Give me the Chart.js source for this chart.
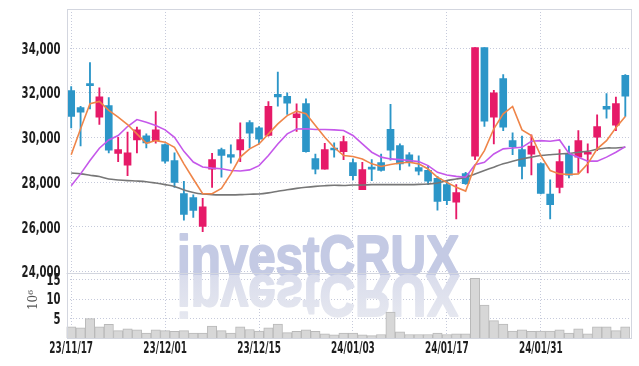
<!DOCTYPE html>
<html>
<head>
<meta charset="utf-8">
<script src="https://cdn.jsdelivr.net/npm/chart.js@4.4.0/dist/chart.umd.min.js"></script>
<style>
  html, body { margin: 0; padding: 0; background: #fff; }
  #wrap { width: 639px; height: 366px; }
</style>
</head>
<body>
<div id="wrap"><canvas id="chart"></canvas></div>
<script>
// data
const dates = ['23/11/17','23/11/20','23/11/21','23/11/22','23/11/23','23/11/24','23/11/27','23/11/28','23/11/29','23/11/30',
  '23/12/01','23/12/04','23/12/05','23/12/06','23/12/07','23/12/08','23/12/11','23/12/12','23/12/13','23/12/14',
  '23/12/15','23/12/18','23/12/19','23/12/20','23/12/21','23/12/22','23/12/26','23/12/27','23/12/28','24/01/02',
  '24/01/03','24/01/04','24/01/05','24/01/08','24/01/09','24/01/10','24/01/11','24/01/12','24/01/15','24/01/16',
  '24/01/17','24/01/18','24/01/19','24/01/22','24/01/23','24/01/24','24/01/25','24/01/26','24/01/29','24/01/30',
  '24/01/31','24/02/01','24/02/02','24/02/05','24/02/06','24/02/07','24/02/08','24/02/13','24/02/14','24/02/15']

const open = [32100,31340,32340,30910,31430,29290,28760,29890,30070,29860,
  29680,28970,27490,27310,26020,28580,29460,29230,29440,30670,
  30430,30090,31930,31840,30890,31520,29060,28580,29470,29370,
  28880,27660,28610,28880,30360,29640,29220,28650,28530,28170,
  27890,27100,28380,29160,34020,30910,32640,29860,29460,29250,
  28830,27470,27770,29250,29120,29250,30010,31390,30550,32780]
const close = [30940,31130,32320,31820,29430,29460,29310,30340,29760,30340,
  28940,27990,26560,26740,26900,29010,29200,29120,29910,30190,
  29920,31390,31810,31540,31060,29370,28580,29460,29440,29820,
  28290,28560,28580,28520,29430,28820,28890,28490,28040,27140,
  27170,27530,27930,34020,30730,32000,30460,29590,28700,29620,
  27500,26990,28920,28310,29860,29340,30490,31270,31520,31850]
const high = [32280,31390,33350,32220,31780,30010,30240,30460,30160,31160,
  29710,29310,28040,27430,27280,29290,29520,29670,30650,30760,
  30490,31610,32930,32000,31510,31730,29260,29740,29760,30060,
  29040,28890,29010,29260,31480,29710,29320,29180,28740,28260,
  28070,27890,28440,34020,34020,32110,32820,30210,30060,30120,
  28860,28100,29460,29620,30310,29710,31010,31960,31810,32820]
const low = [30430,29620,31280,30580,29310,28920,28290,29310,29530,29740,
  28850,27770,26300,26420,25780,27770,28220,28850,28920,29530,
  29710,30060,31400,31030,30270,29340,28370,28580,29120,29010,
  28100,27660,28070,28490,28980,28550,28710,28320,27890,26750,
  26990,26350,27900,29010,30490,29710,30310,29230,28140,28320,
  27470,26350,27520,28190,28400,28410,29410,30860,30310,30940]

const ma5 = [29230,30390,31510,31610,31210,30910,30580,30160,29740,29860,
  29790,29560,28820,28140,27480,27480,27720,28370,29120,29490,
  29710,30160,30610,30980,31180,31060,30540,30010,29550,29190,
  29150,29040,28820,28700,28790,28860,28890,28820,28590,28220,
  27990,27770,27600,28750,29410,30390,31060,31390,30340,30090,
  29190,28520,28370,28340,28370,28820,29490,29860,30430,30940]
const ma20 = [27840,28370,28970,29520,29890,30090,30490,30800,30680,30540,
  30340,30010,29380,28900,28680,28630,28600,28520,28500,28550,
  28740,29190,29710,30160,30380,30390,30360,30360,30340,30310,
  30090,29710,29340,29120,29040,29010,28970,28920,28740,28440,
  28320,28260,28220,28780,28890,29260,29490,29530,29560,29830,
  29860,29830,29890,29290,29120,28940,28940,29120,29340,29590]
const ma60 = [28410,28370,28310,28250,28140,28100,28070,28050,28020,27960,
  27890,27810,27650,27540,27470,27440,27430,27430,27440,27460,
  27470,27520,27590,27660,27720,27770,27810,27840,27860,27850,
  27870,27870,27890,27890,27890,27890,27890,27900,27920,27960,
  28070,28140,28220,28370,28520,28670,28820,28940,29040,29120,
  29190,29230,29260,29290,29340,29380,29470,29530,29530,29560]

// volume in millions
const volume = [2.9,2.6,5.0,2.9,3.5,1.9,2.4,2.1,1.3,2.1,
  1.9,1.7,1.9,1.3,1.3,3.1,1.9,1.3,2.9,2.2,
  1.8,2.6,3.6,1.4,1.7,2.1,1.7,1.1,0.8,1.3,
  1.3,0.8,0.6,0.9,6.7,1.6,0.9,0.9,0.9,1.3,
  0.9,1.1,1.1,15.4,8.5,4.5,3.6,1.8,2.1,1.7,
  1.8,1.8,2.1,1.3,2.4,1.1,2.9,2.9,1.9,2.9]

const priceTicks = [24000,26000,28000,30000,32000,34000]
const volumeTicks = [5,10,15]

const RED = '#e61a68'
const BLUE = '#2c96c8'
const GRID = '#c6cadb'
const LABEL_FONT = 'bold 16px "DejaVu Sans Condensed"'

function candleColor(ctx) {
    var i = ctx.dataIndex
    return close[i] >= open[i] ? RED : BLUE
}

// y axes: fixed width, no extra label padding at the ends
function fitY(axis) {
    axis.width = 66.5
    axis.paddingTop = 0
    axis.paddingBottom = 0
}

// narrow text: squeeze horizontally around the anchor point
function narrowText(ctx, text, x, y, align, sx) {
    ctx.save()
    ctx.translate(x, y)
    ctx.scale(sx, 1)
    ctx.textAlign = align
    ctx.fillText(text, 0, 0)
    ctx.restore()
}

// tick labels in the tall narrow face of the original
const axisLabels = {
    id: 'axisLabels',
    afterDraw(chart) {
        const ctx = chart.ctx
        const a = chart.chartArea
        ctx.save()
        ctx.font = LABEL_FONT
        ctx.fillStyle = '#1e1e1e'
        ctx.textBaseline = 'middle'
        const y = chart.scales.y
        y.ticks.forEach(t => {
            narrowText(ctx, t.value.toLocaleString('en-US'), a.left - 6, y.getPixelForValue(t.value) + 1.5, 'right', 0.7)
        })
        const yv = chart.scales.yv
        yv.ticks.forEach(t => {
            narrowText(ctx, String(t.value), a.left - 6, yv.getPixelForValue(t.value) + 1, 'right', 0.7)
        })
        const x = chart.scales.x
        ctx.font = 'bold 15px "DejaVu Sans Condensed"'
        x.ticks.forEach(t => {
            narrowText(ctx, dates[t.value], x.getPixelForValue(t.value), a.bottom + 11.5, 'center', 0.66)
        })
        ctx.restore()
    }
}

// big faded logo with its reflection
const watermark = {
    id: 'watermark',
    beforeDatasetsDraw(chart) {
        const ctx = chart.ctx
        const text = 'investCRUX'
        const x0 = 177, base = 276, w = 282
        ctx.save()
        ctx.font = 'bold 58px "Liberation Sans"'
        const sx = w / ctx.measureText(text).width
        ctx.textBaseline = 'alphabetic'
        ctx.translate(x0, base)
        ctx.scale(sx, 1)
        ctx.lineJoin = 'round'
        ctx.fillStyle = 'rgb(196,202,228)'
        ctx.strokeStyle = 'rgb(196,202,228)'
        ctx.lineWidth = 2
        ctx.fillText(text, 0, 0)
        ctx.strokeText(text, 0, 0)
        ctx.scale(1, -1)
        var g = ctx.createLinearGradient(0, 0, 0, -44)
        g.addColorStop(0, 'rgb(218,221,236)')
        g.addColorStop(1, 'rgb(230,232,240)')
        ctx.fillStyle = g
        ctx.strokeStyle = g
        ctx.fillText(text, 0, 0)
        ctx.strokeText(text, 0, 0)
        ctx.restore()
    }
}

// frame, panel separator and the 10^6 label
const frame = {
    id: 'frame',
    afterDraw(chart) {
        const ctx = chart.ctx
        const a = chart.chartArea
        const sep = chart.scales.y.bottom
        ctx.save()
        ctx.strokeStyle = '#d3d6df'
        ctx.lineWidth = 1
        ctx.strokeRect(Math.round(a.left) + 0.5, Math.round(a.top) + 0.5,
            Math.round(a.right - a.left), Math.round(a.bottom - a.top))
        ctx.beginPath()
        ctx.moveTo(a.left, Math.round(sep) + 1.5)
        ctx.lineTo(a.right, Math.round(sep) + 1.5)
        ctx.stroke()

        ctx.translate(34, 300)
        ctx.rotate(-Math.PI / 2)
        ctx.fillStyle = '#555'
        ctx.font = '12px "DejaVu Serif"'
        ctx.textAlign = 'center'
        ctx.textBaseline = 'middle'
        ctx.fillText('10⁶', 0, 0)
        ctx.restore()
    }
}

const config = {
    type: 'bar',
    data: {
        labels: dates,
        datasets: [
            { type: 'line', label: 'MA5', data: ma5, yAxisID: 'y', borderColor: '#ef8549',
              borderWidth: 1.6, pointRadius: 0, tension: 0, order: 0 },
            { type: 'line', label: 'MA20', data: ma20, yAxisID: 'y', borderColor: '#c558ea',
              borderWidth: 1.6, pointRadius: 0, tension: 0, order: 0 },
            { type: 'line', label: 'MA60', data: ma60, yAxisID: 'y', borderColor: '#777777',
              borderWidth: 1.6, pointRadius: 0, tension: 0.3, order: 0 },
            { label: 'body', data: dates.map((d, i) => [open[i], close[i]]), yAxisID: 'y',
              backgroundColor: candleColor, barThickness: 7, grouped: false, minBarLength: 2, order: 1 },
            { label: 'wick', data: dates.map((d, i) => [low[i], high[i]]), yAxisID: 'y',
              backgroundColor: candleColor, barThickness: 1.2, grouped: false, order: 2 },
            { label: 'volume', data: volume, yAxisID: 'yv', backgroundColor: '#d7d7d7',
              borderColor: '#b9b9b9', borderWidth: 1, barPercentage: 1, categoryPercentage: 1,
              grouped: false, order: 3 }
        ]
    },
    options: {
        responsive: true,
        maintainAspectRatio: false,
        animation: false,
        layout: { padding: { top: 9, right: 9, left: 0, bottom: 0 } },
        plugins: { legend: { display: false }, tooltip: { enabled: false } },
        scales: {
            x: {
                offset: true,
                afterBuildTicks: function(axis) {
                    axis.ticks = axis.ticks.filter(t => t.value % 10 === 0)
                },
                afterFit: function(axis) {
                    axis.height = 28
                    axis.paddingLeft = 0
                    axis.paddingRight = 0
                },
                ticks: { display: false, autoSkip: false, maxRotation: 0 },
                grid: { offset: false, color: GRID, drawTicks: false },
                border: { display: false, dash: [1, 2] }
            },
            yv: {
                position: 'left',
                stack: 'main',
                stackWeight: 1,
                min: 0,
                max: 17,
                afterBuildTicks: function(axis) {
                    axis.ticks = volumeTicks.map(v => ({ value: v }))
                },
                afterFit: fitY,
                ticks: { display: false, autoSkip: false },
                grid: { color: GRID, drawTicks: false },
                border: { display: false, dash: [1, 2] }
            },
            y: {
                position: 'left',
                stack: 'main',
                stackWeight: 4,
                min: 23970,
                max: 35750,
                afterBuildTicks: function(axis) {
                    axis.ticks = priceTicks.map(v => ({ value: v }))
                },
                afterFit: fitY,
                ticks: { display: false, autoSkip: false },
                grid: { color: GRID, drawTicks: false },
                border: { display: false, dash: [1, 2] }
            }
        }
    },
    plugins: [watermark, frame, axisLabels]
}

new Chart(document.getElementById('chart'), config)
</script>
</body>
</html>
